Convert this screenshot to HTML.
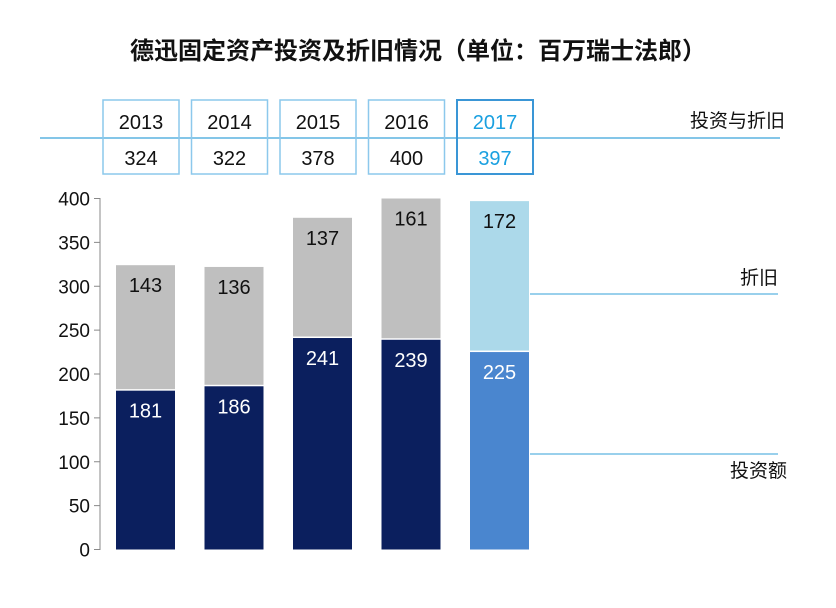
<!DOCTYPE html>
<html><head><meta charset="utf-8"><style>
body{margin:0;background:#fff;}
svg{display:block;font-family:"Liberation Sans","Noto Sans CJK SC",sans-serif;}
</style></head><body>
<svg id="c" width="836" height="608">
<text x="418" y="59" text-anchor="middle" font-size="24" font-weight="bold" fill="#111">德迅固定资产投资及折旧情况（单位：百万瑞士法郎）</text>
<line x1="40" y1="138" x2="780" y2="138" stroke="#5cb4e0" stroke-width="1.5"/>
<text x="785" y="127" text-anchor="end" font-size="19" fill="#111">投资与折旧</text>
<line x1="100" y1="198" x2="100" y2="550" stroke="#888" stroke-width="1"/>
<line x1="530" y1="294" x2="778" y2="294" stroke="#5cb4e0" stroke-width="1.2"/>
<text x="778" y="284" text-anchor="end" font-size="19" fill="#111">折旧</text>
<line x1="530" y1="454" x2="778" y2="454" stroke="#5cb4e0" stroke-width="1.2"/>
<text x="787" y="477" text-anchor="end" font-size="19" fill="#111">投资额</text>
</svg>
<script>
const years=["2013","2014","2015","2016","2017"];
const investment=[181,186,241,239,225];
const depreciation=[143,136,137,161,172];
const totals=[324,322,378,400,397];
const yTicks=[0,50,100,150,200,250,300,350,400];
const svg=document.getElementById('c');
const NS='http://www.w3.org/2000/svg';
const y0=549.5,yScale=351/400;
function y(v){return y0-v*yScale;}
function x(i){return 116+i*88.5;}
const bw=59;
function mk(tag,attrs,txt){const e=document.createElementNS(NS,tag);for(const k in attrs)e.setAttribute(k,attrs[k]);if(txt!==undefined)e.textContent=txt;svg.appendChild(e);return e;}
yTicks.forEach(t=>{
 const l=mk('line',{x1:94,x2:100,y1:y(t),y2:y(t),stroke:'#888'});
 
 
 const tx=mk('text',{x:90,y:y(t)+7,'text-anchor':'end','font-size':19,fill:'#111'},t);
 
 
});
years.forEach((yr,i)=>{
 const last=i===4;
 const bx=x(i)-13, bw2=76;
 const box=mk('rect',{x:bx,y:100,width:bw2,height:74,fill:'none',stroke:last?'#3a96d6':'#8cc8ec','stroke-width':last?2:1.5});
 
 
 const yt=mk('text',{x:bx+bw2/2,y:129,'text-anchor':'middle','font-size':20,fill:last?'#1aa0e0':'#111'},yr);
 
 
 const tt=mk('text',{x:bx+bw2/2,y:165,'text-anchor':'middle','font-size':20,fill:last?'#1aa0e0':'#111'},totals[i]);
 
 
 const inv=investment[i],dep=depreciation[i];
 const b1=mk('rect',{x:x(i),y:y(inv),width:bw,height:y(0)-y(inv),fill:last?'#4a86cf':'#0b1f5e'});
 
 
 const b2=mk('rect',{x:x(i),y:y(inv+dep),width:bw,height:y(inv)-y(inv+dep)-1.5,fill:last?'#acd9ea':'#bfbfbf'});
 
 
 const l1=mk('text',{x:x(i)+bw/2,y:y(inv)+27,'text-anchor':'middle','font-size':20,fill:'#fff'},inv);
 
 
 const l2=mk('text',{x:x(i)+bw/2,y:y(inv+dep)+27,'text-anchor':'middle','font-size':20,fill:'#111'},dep);
 
 
});
</script>
</body></html>
